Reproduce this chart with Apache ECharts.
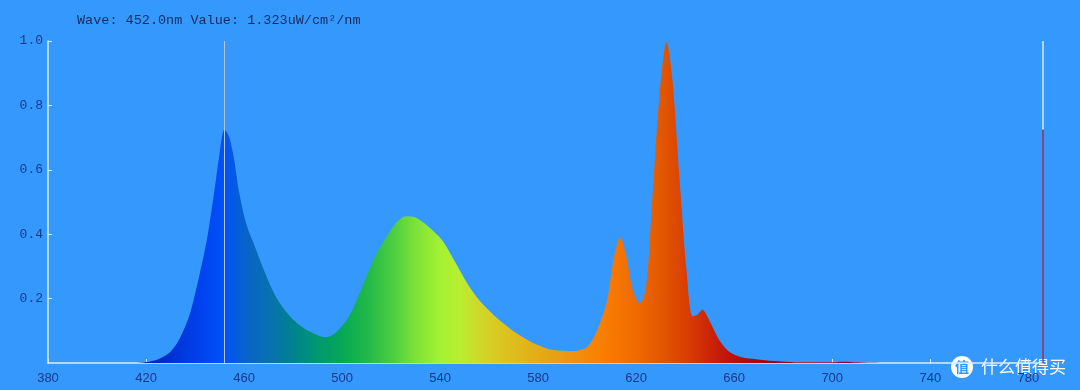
<!DOCTYPE html>
<html>
<head>
<meta charset="utf-8">
<title>Spectrum</title>
<script src="https://cdn.jsdelivr.net/npm/echarts@6/dist/echarts.min.js"></script>
<style>
  html, body { margin: 0; padding: 0; background: #3598fc; }
  #spectrum { width: 1080px; height: 390px; }
</style>
</head>
<body>
<div id="spectrum"></div>
<script>
// wavelength (nm) and relative intensity
var waves = [380, 400, 415, 420, 425, 430, 434, 438, 442, 445, 448, 450, 452, 454, 456, 458, 461, 465, 468, 472,
             476, 480, 484, 488, 493, 497, 502, 506, 510, 514, 518, 522, 526, 530, 535, 541, 546, 552, 557, 564,
             571, 578, 586, 594, 600, 604, 608, 611, 613.5, 616, 618.5, 621.5, 624, 626.5, 629.5, 632.4, 634.8,
             637.7, 640.5, 643, 645, 647, 650, 654, 658, 663, 669, 676, 683, 690, 700, 705, 710, 720, 786];
var values = [0, 0, 0, 0.003, 0.012, 0.035, 0.08, 0.155, 0.28, 0.39, 0.54, 0.65, 0.725, 0.70, 0.63, 0.53, 0.43, 0.35, 0.29, 0.22,
              0.17, 0.135, 0.11, 0.093, 0.08, 0.092, 0.134, 0.196, 0.27, 0.34, 0.39, 0.435, 0.456, 0.452, 0.425, 0.38, 0.315, 0.236, 0.186, 0.134,
              0.093, 0.062, 0.04, 0.037, 0.05, 0.10, 0.19, 0.33, 0.39, 0.33, 0.23, 0.185, 0.235, 0.5, 0.83, 0.997, 0.88,
              0.57, 0.29, 0.145, 0.15, 0.165, 0.13, 0.07, 0.035, 0.018, 0.012, 0.006, 0.003, 0.002, 0.002, 0.004, 0.002, 0, 0];
var xTicks = [380, 420, 460, 500, 540, 580, 620, 660, 700, 740, 780];
var yTicks = [0.2, 0.4, 0.6, 0.8, 1.0];

// colour of the fill along the wavelength
var stopWaves  = [380, 420, 432, 445, 452, 460, 470, 480, 490, 500, 510, 520, 530, 540, 548, 556, 566, 580, 595, 605, 620, 632, 642, 652, 662, 675, 700, 786];
var stopColors = ['#1a1aa0', '#0020b0', '#0034d8', '#0046f2', '#0052f8', '#0862cc', '#0870b0', '#00828e', '#009870', '#05a855',
                  '#20b848', '#48cc40', '#7ce238', '#a4f232', '#b8ee30', '#cfd82a', '#dcc420', '#e4ac16', '#f09010', '#fa8000',
                  '#f06a00', '#e05400', '#d83a04', '#c82008', '#b80c06', '#a00010', '#800030', '#600040'];

var cursorWave = 452.0;
var cursorTitle = 'Wave: 452.0nm Value: 1.323uW/cm\u00b2/nm';

var xMin = 380, xMax = 786;

var chart = echarts.init(document.getElementById('spectrum'));

var points = waves.map(function (w, i) { return [w, values[i]]; });
var cursorLevel = values[waves.indexOf(cursorWave)];

var stops = stopWaves.map(function (w, i) {
    return { offset: (w - xMin) / (xMax - xMin), color: stopColors[i] };
});

var labelColor = '#18398a';
var axisColor = '#d4eeff';

chart.setOption({
    backgroundColor: '#3598fc',
    animation: false,
    title: {
        text: cursorTitle,
        left: 72,
        top: 8,
        textStyle: {
            fontFamily: 'Liberation Mono',
            fontSize: 13.5,
            fontWeight: 'normal',
            color: '#1a2a5c'
        }
    },
    grid: { left: 48, right: 37, top: 41, bottom: 27 },
    xAxis: {
        type: 'value',
        min: xMin,
        max: xMax,
        axisLine: { lineStyle: { color: axisColor, width: 1.5 } },
        axisTick: { inside: true, length: 4, customValues: xTicks, lineStyle: { color: axisColor } },
        axisLabel: {
            customValues: xTicks,
            margin: 9,
            color: labelColor,
            fontFamily: 'Liberation Sans',
            fontSize: 13
        },
        splitLine: { show: false }
    },
    yAxis: {
        type: 'value',
        min: 0,
        max: 1,
        axisLine: { show: true, lineStyle: { color: axisColor, width: 1.5 } },
        axisTick: { show: true, inside: true, length: 4, customValues: yTicks, lineStyle: { color: axisColor } },
        axisLabel: {
            customValues: yTicks,
            margin: 5,
            color: labelColor,
            fontFamily: 'Liberation Mono',
            fontSize: 13,
            formatter: function (v) { return v.toFixed(1); }
        },
        splitLine: { show: false }
    },
    series: [{
        type: 'line',
        data: points,
        smooth: 0.3,
        showSymbol: false,
        lineStyle: { width: 0 },
        areaStyle: {
            opacity: 1,
            color: { type: 'linear', x: 0, y: 0, x2: 1, y2: 0, colorStops: stops }
        },
        markLine: {
            silent: true,
            symbol: 'none',
            label: { show: false },
            data: [
                { xAxis: cursorWave, lineStyle: { color: '#b4c4d8', width: 1, type: 'solid' } },
                [{ coord: [xMax, 0], lineStyle: { color: '#a0304e', width: 1.5, type: 'solid' } }, { coord: [xMax, cursorLevel] }],
                [{ coord: [xMax, cursorLevel], lineStyle: { color: '#d2ecfa', width: 1.5, type: 'solid' } }, { coord: [xMax, 1] }]
            ]
        }
    }],
    graphic: [
        { type: 'circle', shape: { cx: 962, cy: 367, r: 11 }, style: { fill: '#ffffff' } },
        { type: 'text', x: 962, y: 367, style: { text: '值', fill: '#3598fc', font: 'bold 14px "Noto Sans CJK SC"', align: 'center', verticalAlign: 'middle' } },
        { type: 'text', x: 981, y: 367, style: { text: '什么值得买', fill: '#ffffff', font: '17px "Noto Sans CJK SC"', verticalAlign: 'middle' } }
    ]
});
</script>
</body>
</html>
